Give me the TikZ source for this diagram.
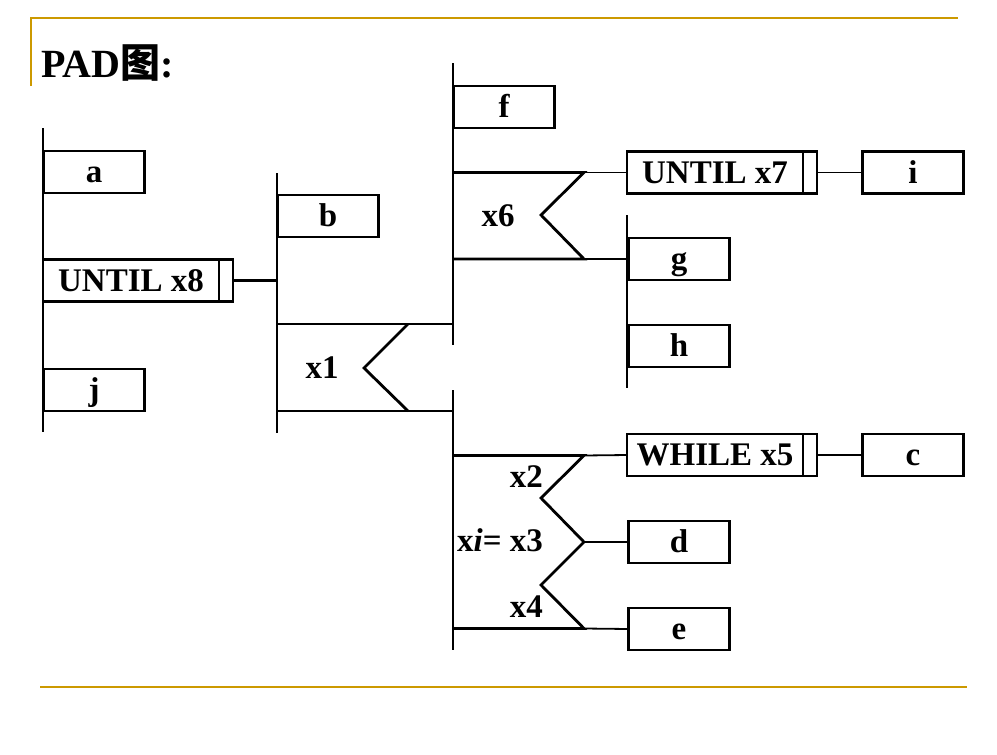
\documentclass[tikz,border=0pt]{standalone}
\usepackage{fontspec}
\setmainfont{Liberation Serif}
\newfontfamily\cjk{Noto Sans CJK SC}
\usetikzlibrary{positioning}

\definecolor{slidegold}{RGB}{204,153,0}
\newcommand{\padfont}{\bfseries\fontsize{33}{36}\selectfont}

\tikzset{
  seq/.style={line width=2.8pt},
  link/.style={line width=1.8pt},
  box/.style={draw, line width=2.8pt, outer sep=0pt, minimum width=101pt, minimum height=42pt,
    inner sep=0pt, text height=21pt, text depth=0pt, font=\padfont},
  loopbox/.style={box, minimum width=176pt},
  strip/.style={draw, line width=2.8pt, outer sep=0pt, minimum width=14pt, minimum height=42pt, inner sep=0pt},
  cond/.style={inner sep=0pt, font=\padfont},
  rule/.style={slidegold, line width=2.2pt}
}

\begin{document}
\begin{tikzpicture}[x=1pt, y=-1pt]
\useasboundingbox (0,0) rectangle (997,755);

% Slide frame
\draw[rule] (31,86) -- (31,18) -- (958,18);
\draw[rule] (40,687) -- (967,687);

% Title
\node[anchor=base west, inner sep=0pt, font=\bfseries\fontsize{40}{44}\selectfont] (title) at (41,77) {PAD{\cjk 图}:};

% Sequence lines
\foreach \n/\x/\ya/\yb in {s1/43/128/432, s2/277/173/433, s3/453/63/345, s4/453/390/650, s5/627/215/388} {
  \coordinate (\n-t) at (\x,\ya);
  \coordinate (\n-b) at (\x,\yb);
  \draw[seq] (\n-t) -- (\n-b);
}

% Boxes
\node[box] (a) at (94,172) {a};
\node[loopbox] (u8) at (131,280.5) {UNTIL x8};
\node[strip, right=0pt of u8] (u8s) {};
\node[box] (j) at (94,390) {j};
\node[box] (b) at (328,216) {b};
\node[box] (f) at (504,107) {f};
\node[loopbox] (u7) at (715,172.5) {UNTIL x7};
\node[strip, right=0pt of u7] (u7s) {};
\node[box] (i) at (913,172.5) {i};
\node[box] (g) at (679,259) {g};
\node[box] (h) at (679,346) {h};
\node[loopbox] (w5) at (715,455) {WHILE x5};
\node[strip, right=0pt of w5] (w5s) {};
\node[box] (c) at (913,455) {c};
\node[box] (d) at (679,542) {d};
\node[box] (e) at (679,629) {e};

% Loop bodies
\draw[seq] (u8s.east) -- (u8s.east -| s2-t);
\draw[link] (u7s) -- (i);
\draw[link] (w5s) -- (c);

% Selection x1
\coordinate (x1t) at (408,324);
\coordinate (x1m) at (364,368);
\coordinate (x1b) at (408,411);
\draw[seq] (s2-t |- x1t) -- (s3-t |- x1t);
\draw[seq] (s2-t |- x1b) -- (s4-t |- x1b);
\draw[seq] (x1t) -- (x1m) -- (x1b);
\node[cond, anchor=base] (l1) at (322,378) {x1};

% Selection x6
\coordinate (x6t) at (584,172.5);
\coordinate (x6m) at (541,215);
\coordinate (x6b) at (584,259);
\draw[seq] (s3-t |- x6t) -- (x6t) -- (x6m) -- (x6b) -- (s3-t |- x6b);
\draw[link] (x6t) -- (u7.west);
\draw[link] (x6b) -- (g.west);
\node[cond, anchor=base] (l6) at (498,226) {x6};

% Multiple selection xi
\coordinate (m1) at (584,455.5);
\coordinate (m2) at (541,498);
\coordinate (m3) at (584,542);
\coordinate (m4) at (541,585);
\coordinate (m5) at (584,628.5);
\draw[seq] (s4-t |- m1) -- (m1) -- (m2) -- (m3) -- (m4) -- (m5) -- (s4-t |- m5);
\draw[link] (m1) -- (w5.west);
\draw[link] (m3) -- (d.west);
\draw[link] (m5) -- (e.west);
\node[cond, anchor=base east] (l2) at (543,487) {x2};
\node[cond, anchor=base east] (l3) at (543,551) {x\textit{i}= x3};
\node[cond, anchor=base east] (l4) at (543,617) {x4};

\end{tikzpicture}
\end{document}
